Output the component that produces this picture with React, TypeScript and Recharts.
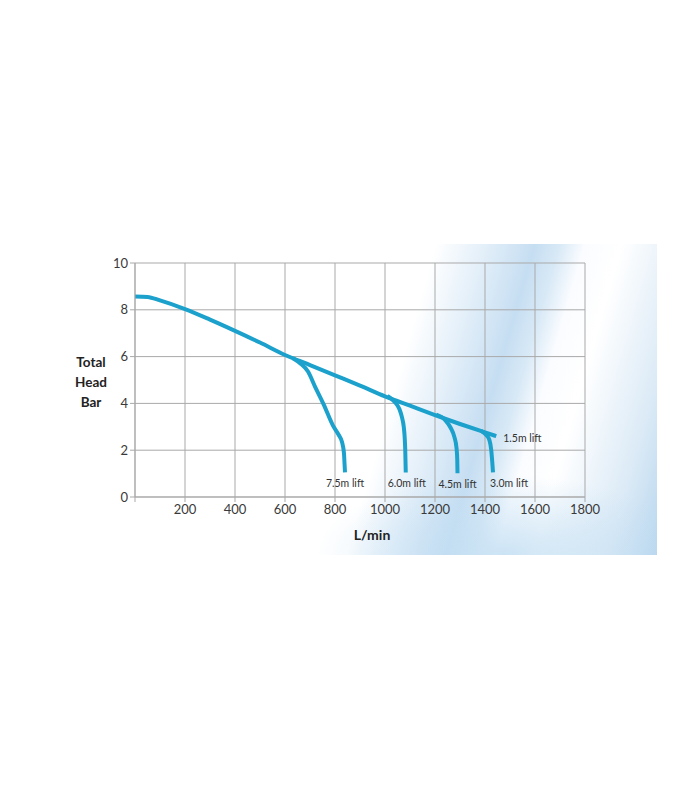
import React from 'react';
import { LineChart, Line, XAxis, YAxis, CartesianGrid } from 'recharts';

const flowTicks = [0, 200, 400, 600, 800, 1000, 1200, 1400, 1600, 1800];
const headTicks = [0, 2, 4, 6, 8, 10];

const lift15Flow = [0, 50, 100, 200, 300, 400, 500, 600, 700, 800, 900, 1000, 1100, 1200, 1300, 1400, 1445];
const lift15Head = [8.57, 8.55, 8.4, 8.03, 7.58, 7.1, 6.6, 6.07, 5.64, 5.2, 4.76, 4.3, 3.9, 3.5, 3.12, 2.76, 2.6];

const lift75Flow = [632, 660, 692, 720, 755, 792, 815, 828, 836, 838, 840];
const lift75Head = [5.93, 5.72, 5.36, 4.72, 3.95, 3.05, 2.65, 2.35, 1.86, 1.45, 1.05];

const lift60Flow = [1010, 1040, 1058, 1068, 1075, 1079, 1081, 1083];
const lift60Head = [4.32, 4.05, 3.75, 3.4, 3.0, 2.5, 2.0, 1.05];

const lift45Flow = [1205, 1240, 1262, 1278, 1286, 1289, 1290];
const lift45Head = [3.52, 3.3, 2.97, 2.55, 2.1, 1.6, 1.02];

const lift30Flow = [1385, 1405, 1418, 1425, 1429, 1432];
const lift30Head = [2.82, 2.65, 2.42, 2.0, 1.5, 1.05];

const liftLabels = ['1.5m lift', '7.5m lift', '6.0m lift', '4.5m lift', '3.0m lift'];

const toPoints = (xs: number[], ys: number[]) => xs.map((x, i) => ({ flow: x, head: ys[i] }));

const series = [
  { data: toPoints(lift15Flow, lift15Head), label: liftLabels[0], dx: 7, dy: 3, anchor: 'start' },
  { data: toPoints(lift75Flow, lift75Head), label: liftLabels[1], dx: 0, dy: 12, anchor: 'middle' },
  { data: toPoints(lift60Flow, lift60Head), label: liftLabels[2], dx: 1, dy: 12, anchor: 'middle' },
  { data: toPoints(lift45Flow, lift45Head), label: liftLabels[3], dx: 0, dy: 12, anchor: 'middle' },
  { data: toPoints(lift30Flow, lift30Head), label: liftLabels[4], dx: 16, dy: 12, anchor: 'middle' },
];

const LINE_COLOR = '#1ba1cc';
const GRID = '#a9a9a9';
const FONT = 'Lato, "Open Sans", sans-serif';

const makeLabel = (text: string, dx: number, dy: number, anchor: string, count: number) =>
  (p: any) => {
    if (p.index !== count - 1) return null;
    return (
      <text
        key={text}
        x={p.x + dx}
        y={p.y + dy}
        textAnchor={anchor}
        fontSize={10.5}
        fontFamily={FONT}
        fill="#333"
        dominantBaseline="middle"
      >
        {text}
      </text>
    );
  };

export default function App() {
  return (
    <div style={{ position: 'absolute', left: 0, top: 0, width: 700, height: 800, background: '#fff' }}>
      <div
        style={{
          position: 'absolute',
          left: 125,
          top: 244,
          width: 532,
          height: 311,
          background:
            'radial-gradient(ellipse 190px 80px at 380px 311px, rgba(192,221,242,0.8), rgba(192,221,242,0)), ' +
            'linear-gradient(106deg, #ffffff 0%, #ffffff 50%, #e3eff9 58%, #c6def2 66%, #d8e9f6 70%, #fafcff 74%, #ffffff 80%, #dbeaf6 92%, #b9d7ef 100%)',
        }}
      />
      <div style={{ position: 'absolute', left: 0, top: 0 }}>
        <LineChart width={700} height={800} margin={{ top: 263, right: 115, bottom: 273, left: 75 }}>
          <CartesianGrid stroke={GRID} strokeWidth={1} />
          <XAxis
            dataKey="flow"
            type="number"
            domain={[0, 1800]}
            ticks={flowTicks}
            height={30}
            tickFormatter={(v: number) => (v === 0 ? '' : String(v))}
            stroke={GRID}
            tickSize={5}
            tickMargin={3}
            tick={{ fill: '#3a3a3a', fontSize: 13, fontFamily: FONT }}
            allowDuplicatedCategory={false}
          />
          <YAxis
            dataKey="head"
            type="number"
            domain={[0, 10]}
            ticks={headTicks}
            width={60}
            stroke={GRID}
            tickSize={5}
            tickMargin={2}
            tick={{ fill: '#3a3a3a', fontSize: 13, fontFamily: FONT }}
          />
          {series.map((s) => (
            <Line
              key={s.label}
              data={s.data}
              dataKey="head"
              type="monotoneX"
              stroke={LINE_COLOR}
              strokeWidth={4}
              dot={false}
              activeDot={false}
              isAnimationActive={false}
              label={makeLabel(s.label, s.dx, s.dy, s.anchor, s.data.length)}
            />
          ))}
        </LineChart>
      </div>
      <div
        style={{
          position: 'absolute',
          left: 55,
          top: 352,
          width: 72,
          textAlign: 'center',
          fontFamily: FONT,
          fontWeight: 700,
          fontSize: 13.5,
          lineHeight: '20px',
          color: '#222',
        }}
      >
        Total
        <br />
        Head
        <br />
        Bar
      </div>
      <div
        style={{
          position: 'absolute',
          left: 322,
          top: 525,
          width: 100,
          textAlign: 'center',
          fontFamily: FONT,
          fontWeight: 700,
          fontSize: 14,
          lineHeight: '20px',
          color: '#222',
        }}
      >
        L/min
      </div>
    </div>
  );
}
